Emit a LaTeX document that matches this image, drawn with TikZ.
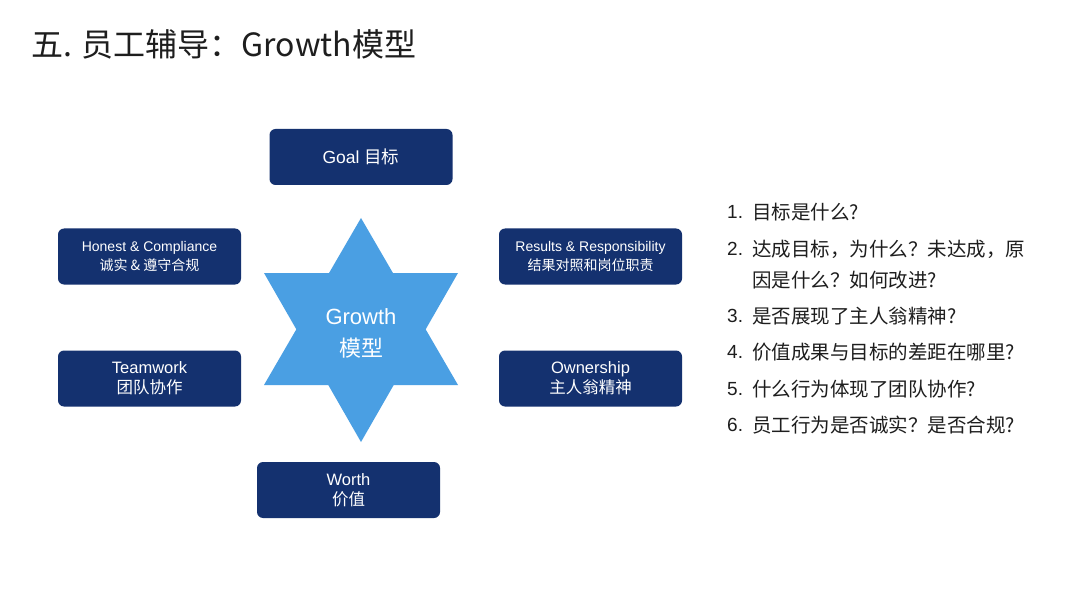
\documentclass[tikz,border=0pt]{standalone}
\usepackage{fontspec}
\setmainfont{Liberation Sans}
\newfontfamily\cjk{Noto Sans CJK SC}
\definecolor{navy}{HTML}{14316F}
\definecolor{starblue}{HTML}{4A9FE3}
\definecolor{ink}{HTML}{1E1E1E}
\tikzset{
  card/.style={fill=navy, rounded corners=6pt, minimum width=183pt, minimum height=56pt,
    text=white, align=center, inner sep=0pt},
  smallcard/.style={card, font=\fontsize{14}{19}\selectfont},
  midcard/.style={card, font=\fontsize{16.5}{20}\selectfont},
  num/.style={anchor=west, inner sep=0pt, text=ink, font=\fontsize{19}{22}\selectfont},
  item/.style={anchor=west, inner sep=0pt, text=ink, font=\cjk\fontsize{19.5}{22}\selectfont}
}
\begin{document}
\begin{tikzpicture}[x=1pt,y=-1pt]
\useasboundingbox (0,0) rectangle (1080,607);
\fill[white] (0,0) rectangle (1080,607);

% title
\node[anchor=west, inner sep=0pt, text=ink, font=\cjk\fontsize{32}{38}\selectfont] (title) at (31,44) {五. 员工辅导：Growth模型};

% star
\fill[starblue] (361,218) -- (458,385) -- (264,385) -- cycle;
\fill[starblue] (264,273) -- (458,273) -- (361,442) -- cycle;
\node[text=white, align=center, inner sep=0pt, font=\fontsize{22}{32}\selectfont] (growth) at (361,333) {Growth\\{\cjk 模型}};

% cards
\node[card, font=\fontsize{17.5}{20}\selectfont] (goal) at (361,157) {Goal {\cjk 目标}};
\node[smallcard] (honest) at (149.5,256.5) {Honest \& Compliance\\{\cjk 诚实 \& 遵守合规}};
\node[smallcard] (results) at (590.5,256.5) {Results \& Responsibility\\{\cjk 结果对照和岗位职责}};
\node[midcard] (team) at (149.5,378.5) {Teamwork\\{\cjk 团队协作}};
\node[midcard] (own) at (590.5,378.5) {Ownership\\{\cjk 主人翁精神}};
\node[midcard] (worth) at (348.5,490) {Worth\\{\cjk 价值}};

% list
\node[num] (n1) at (727,212) {1.};
\node[item] (t1) at (752,212) {目标是什么?};
\node[num] (n2) at (727,249) {2.};
\node[item] (t2) at (752,249) {达成目标，为什么？未达成，原};
\node[item] (t2b) at (752,280) {因是什么？如何改进?};
\node[num] (n3) at (727,316) {3.};
\node[item] (t3) at (752,316) {是否展现了主人翁精神?};
\node[num] (n4) at (727,352) {4.};
\node[item] (t4) at (752,352) {价值成果与目标的差距在哪里?};
\node[num] (n5) at (727,389) {5.};
\node[item] (t5) at (752,389) {什么行为体现了团队协作?};
\node[num] (n6) at (727,425) {6.};
\node[item] (t6) at (752,425) {员工行为是否诚实？是否合规?};
\end{tikzpicture}
\end{document}
